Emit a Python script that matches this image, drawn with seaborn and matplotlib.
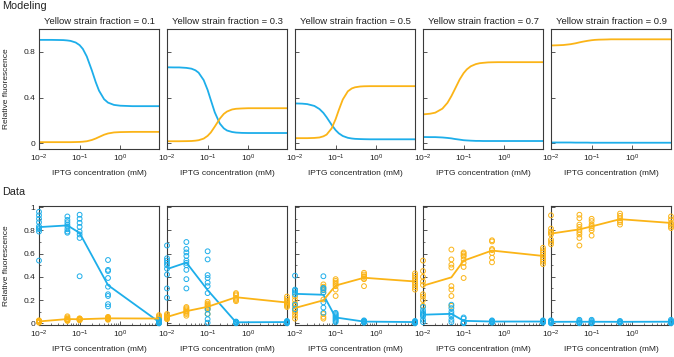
import pandas as pd
import matplotlib
matplotlib.use("Agg")
import matplotlib.pyplot as plt
import seaborn as sns
from matplotlib.ticker import FixedLocator, LogLocator, NullLocator, NullFormatter, MultipleLocator

BLUE = "#1daeea"
ORANGE = "#fbb417"
SPINE = "#3a3a3a"

FRACTIONS = ["0.1", "0.3", "0.5", "0.7", "0.9"]

# ---- modeling curves ----
MODEL_CONC = [0.01, 0.015, 0.02, 0.03, 0.04, 0.05, 0.06, 0.08, 0.1, 0.12, 0.15,
              0.2, 0.25, 0.3, 0.4, 0.5, 0.7, 1.0, 2.0, 5.0, 9.0]

BLUE_MODEL_01 = [0.905, 0.905, 0.905, 0.904, 0.903, 0.90, 0.896, 0.882, 0.859, 0.826, 0.76,
                 0.638, 0.534, 0.461, 0.386, 0.356, 0.336, 0.329, 0.325, 0.325, 0.325]
ORANGE_MODEL_01 = [0.01, 0.01, 0.01, 0.01, 0.01, 0.01, 0.01, 0.011, 0.012, 0.014, 0.018,
                   0.029, 0.042, 0.055, 0.075, 0.086, 0.095, 0.098, 0.10, 0.10, 0.10]
BLUE_MODEL_03 = [0.665, 0.664, 0.664, 0.66, 0.653, 0.639, 0.618, 0.553, 0.467, 0.378, 0.271,
                 0.172, 0.131, 0.112, 0.099, 0.094, 0.091, 0.09, 0.09, 0.09, 0.09]
ORANGE_MODEL_03 = [0.018, 0.018, 0.018, 0.019, 0.02, 0.023, 0.027, 0.041, 0.065, 0.095, 0.146,
                   0.216, 0.257, 0.278, 0.296, 0.302, 0.305, 0.307, 0.307, 0.307, 0.307]
BLUE_MODEL_05 = [0.349, 0.347, 0.343, 0.327, 0.30, 0.266, 0.228, 0.161, 0.115, 0.087, 0.064,
                 0.048, 0.042, 0.039, 0.037, 0.036, 0.035, 0.035, 0.035, 0.035, 0.035]
ORANGE_MODEL_05 = [0.045, 0.045, 0.045, 0.047, 0.051, 0.061, 0.076, 0.131, 0.211, 0.292, 0.383,
                   0.455, 0.48, 0.49, 0.497, 0.499, 0.50, 0.50, 0.50, 0.50, 0.50]
BLUE_MODEL_07 = [0.055, 0.054, 0.054, 0.051, 0.047, 0.043, 0.038, 0.032, 0.027, 0.025, 0.023,
                 0.021, 0.021, 0.02, 0.02, 0.02, 0.02, 0.02, 0.02, 0.02, 0.02]
ORANGE_MODEL_07 = [0.253, 0.259, 0.268, 0.303, 0.354, 0.413, 0.469, 0.559, 0.614, 0.647, 0.674,
                   0.693, 0.701, 0.704, 0.708, 0.709, 0.71, 0.71, 0.71, 0.71, 0.71]
BLUE_MODEL_09 = [0.007, 0.007, 0.007, 0.007, 0.006, 0.006, 0.006, 0.006, 0.005, 0.005, 0.005,
                 0.005, 0.005, 0.005, 0.005, 0.005, 0.005, 0.005, 0.005, 0.005, 0.005]
ORANGE_MODEL_09 = [0.856, 0.858, 0.86, 0.867, 0.875, 0.883, 0.889, 0.897, 0.902, 0.905, 0.907,
                   0.908, 0.909, 0.91, 0.91, 0.91, 0.91, 0.91, 0.91, 0.91, 0.91]

# ---- measured data: one sublist of replicates per concentration ----
CONC_01 = [0.01, 0.05, 0.1, 0.5, 9.0]
BLUE_DATA_01 = [[0.96, 0.93, 0.90, 0.87, 0.835, 0.82, 0.81, 0.79, 0.54],
                [0.92, 0.89, 0.87, 0.85, 0.835, 0.81, 0.79, 0.78],
                [0.935, 0.90, 0.865, 0.83, 0.79, 0.765, 0.735, 0.405],
                [0.545, 0.46, 0.45, 0.39, 0.315, 0.25, 0.235, 0.165, 0.145],
                [0.0, 0.0, 0.005, 0.01, 0.015, 0.02, 0.03]]
ORANGE_DATA_01 = [[0.005, 0.01, 0.012, 0.015, 0.018, 0.02, 0.022, 0.025],
                  [0.02, 0.025, 0.03, 0.03, 0.035, 0.04, 0.05, 0.06],
                  [0.025, 0.03, 0.032, 0.035, 0.038, 0.04, 0.042],
                  [0.03, 0.035, 0.04, 0.042, 0.045, 0.05, 0.055],
                  [0.015, 0.025, 0.03, 0.035, 0.04, 0.05, 0.06, 0.07]]

CONC_03 = [0.01, 0.03, 0.1, 0.5, 9.0]
BLUE_DATA_03 = [[0.67, 0.56, 0.54, 0.52, 0.50, 0.47, 0.42, 0.30, 0.22],
                [0.70, 0.64, 0.61, 0.58, 0.54, 0.52, 0.50, 0.46, 0.38, 0.30],
                [0.62, 0.55, 0.415, 0.39, 0.35, 0.32, 0.26, 0.12, 0.08, 0.035, 0.005],
                [0.0, 0.005, 0.008, 0.01, 0.012, 0.015],
                [0.0, 0.005, 0.01, 0.012, 0.015, 0.02]]
ORANGE_DATA_03 = [[0.035, 0.04, 0.045, 0.05, 0.055, 0.06, 0.07, 0.08],
                  [0.14, 0.13, 0.12, 0.11, 0.10, 0.09, 0.08, 0.065],
                  [0.185, 0.17, 0.16, 0.15, 0.14, 0.13, 0.12, 0.08],
                  [0.26, 0.25, 0.24, 0.22, 0.21, 0.20, 0.19],
                  [0.23, 0.21, 0.19, 0.18, 0.17, 0.16, 0.15, 0.14]]

CONC_05 = [0.01, 0.05, 0.1, 0.5, 9.0]
BLUE_DATA_05 = [[0.41, 0.29, 0.28, 0.265, 0.25, 0.16, 0.12],
                [0.405, 0.305, 0.30, 0.285, 0.265, 0.18, 0.135, 0.09],
                [0.09, 0.08, 0.07, 0.06, 0.05, 0.04, 0.03, 0.02, 0.01],
                [0.005, 0.01, 0.012, 0.015, 0.02, 0.025],
                [0.0, 0.005, 0.01, 0.012, 0.015, 0.02]]
ORANGE_DATA_05 = [[0.23, 0.20, 0.17, 0.15, 0.13, 0.11, 0.09, 0.065, 0.04],
                  [0.335, 0.315, 0.29, 0.265, 0.205, 0.08, 0.055, 0.04],
                  [0.38, 0.365, 0.35, 0.335, 0.32, 0.29, 0.235],
                  [0.435, 0.42, 0.405, 0.40, 0.385, 0.38, 0.32],
                  [0.43, 0.41, 0.39, 0.37, 0.35, 0.33, 0.31, 0.29]]

CONC_07 = [0.01, 0.05, 0.1, 0.5, 9.0]
BLUE_DATA_07 = [[0.14, 0.11, 0.09, 0.08, 0.07, 0.06, 0.03, 0.01],
                [0.16, 0.13, 0.10, 0.08, 0.06, 0.03, 0.01],
                [0.05, 0.04, 0.01, 0.005, 0.0],
                [0.005, 0.01, 0.015, 0.02, 0.025],
                [0.005, 0.01, 0.015, 0.02, 0.025]]
ORANGE_DATA_07 = [[0.54, 0.45, 0.40, 0.36, 0.33, 0.25, 0.23, 0.20, 0.15],
                  [0.635, 0.55, 0.505, 0.48, 0.32, 0.29, 0.235, 0.15],
                  [0.61, 0.60, 0.585, 0.575, 0.55, 0.52, 0.485, 0.39],
                  [0.715, 0.705, 0.64, 0.63, 0.605, 0.565, 0.525],
                  [0.65, 0.63, 0.61, 0.59, 0.57, 0.55, 0.53, 0.51]]

CONC_09 = [0.01, 0.05, 0.1, 0.5, 9.0]
BLUE_DATA_09 = [[0.0, 0.005, 0.01, 0.015, 0.02, 0.025],
                [0.0, 0.005, 0.01, 0.02, 0.03],
                [0.0, 0.005, 0.01, 0.02, 0.03],
                [0.005, 0.01, 0.015, 0.02],
                [0.0, 0.005, 0.01, 0.015, 0.02, 0.03]]
ORANGE_DATA_09 = [[0.93, 0.815, 0.79, 0.78, 0.765, 0.72, 0.70, 0.68],
                  [0.935, 0.905, 0.85, 0.83, 0.805, 0.785, 0.765, 0.735, 0.67],
                  [0.90, 0.88, 0.85, 0.835, 0.82, 0.80, 0.755],
                  [0.945, 0.925, 0.905, 0.885, 0.87, 0.85],
                  [0.92, 0.895, 0.865, 0.85, 0.835, 0.82]]

MODEL_BLUE = [BLUE_MODEL_01, BLUE_MODEL_03, BLUE_MODEL_05, BLUE_MODEL_07, BLUE_MODEL_09]
MODEL_ORANGE = [ORANGE_MODEL_01, ORANGE_MODEL_03, ORANGE_MODEL_05, ORANGE_MODEL_07, ORANGE_MODEL_09]
DATA_CONC = [CONC_01, CONC_03, CONC_05, CONC_07, CONC_09]
DATA_BLUE = [BLUE_DATA_01, BLUE_DATA_03, BLUE_DATA_05, BLUE_DATA_07, BLUE_DATA_09]
DATA_ORANGE = [ORANGE_DATA_01, ORANGE_DATA_03, ORANGE_DATA_05, ORANGE_DATA_07, ORANGE_DATA_09]

PALETTE = {"blue": BLUE, "yellow": ORANGE}


def model_frame(blue, orange):
    n = len(MODEL_CONC)
    return pd.DataFrame({"conc": MODEL_CONC * 2,
                         "value": blue + orange,
                         "strain": ["blue"] * n + ["yellow"] * n})


def data_frame(conc, blue, orange):
    rows = []
    for strain, groups in (("blue", blue), ("yellow", orange)):
        for c, reps in zip(conc, groups):
            for v in reps:
                rows.append((c, v, strain))
    return pd.DataFrame(rows, columns=["conc", "value", "strain"])


def style_axis(ax, first, minor):
    ax.set_xscale("log")
    ax.set_xlim(0.01, 9)
    ax.xaxis.set_major_locator(FixedLocator([0.01, 0.1, 1]))
    if minor:
        ax.xaxis.set_minor_locator(LogLocator(base=10, subs=range(2, 10)))
    else:
        ax.xaxis.set_minor_locator(NullLocator())
    ax.xaxis.set_minor_formatter(NullFormatter())
    ax.tick_params(which="major", direction="in", length=3, width=0.6, labelsize=6,
                   pad=2.5, color=SPINE, labelcolor="#222222")
    ax.tick_params(which="minor", direction="in", length=1.6, width=0.5, color=SPINE)
    ax.tick_params(axis="y", labelleft=first)
    for s in ax.spines.values():
        s.set_color(SPINE)
        s.set_linewidth(0.8)
    ax.set_xlabel("IPTG concentration (mM)", fontsize=6, labelpad=4.5, color="#222222")
    if first:
        ax.set_ylabel("Relative fluorescence", fontsize=6, color="#222222")
        ax.yaxis.set_label_coords(-0.242, 0.5)
    else:
        ax.set_ylabel("")


sns.set_style("ticks")
plt.rcParams["font.family"] = ["Liberation Sans", "DejaVu Sans"]

fig = plt.figure(figsize=(6.74, 3.57), dpi=100)

for i in range(5):
    left = (39 + 128 * i) / 674
    ax_m = fig.add_axes([left, 0.5826, 120 / 674, 0.3361])
    ax_d = fig.add_axes([left, 0.0896, 120 / 674, 0.3333])

    # modeling row
    mdf = model_frame(MODEL_BLUE[i], MODEL_ORANGE[i])
    sns.lineplot(data=mdf, x="conc", y="value", hue="strain", palette=PALETTE,
                 estimator=None, linewidth=1.3, legend=False, ax=ax_m)
    style_axis(ax_m, i == 0, minor=False)
    ax_m.set_ylim(-0.05, 1.0)
    ax_m.set_yticks([0, 0.4, 0.8])
    ax_m.set_yticklabels(["0", "0.4", "0.8"])
    ax_m.set_title(f"Yellow strain fraction = {FRACTIONS[i]}", fontsize=6.8, pad=3.5,
                   color="#222222")

    # data row
    ddf = data_frame(DATA_CONC[i], DATA_BLUE[i], DATA_ORANGE[i])
    for strain in ["yellow", "blue"]:
        sub = ddf[ddf["strain"] == strain]
        sns.scatterplot(data=sub, x="conc", y="value", marker="o", s=12,
                        facecolor="none", edgecolor=PALETTE[strain], linewidth=0.7,
                        clip_on=False, zorder=3, ax=ax_d)
    sns.lineplot(data=ddf, x="conc", y="value", hue="strain", palette=PALETTE,
                 estimator="mean", errorbar=None, linewidth=1.3, legend=False,
                 zorder=4, ax=ax_d)
    style_axis(ax_d, i == 0, minor=True)
    ax_d.set_ylim(-0.015, 1.01)
    ax_d.set_yticks([0, 0.2, 0.4, 0.6, 0.8, 1.0])
    ax_d.set_yticklabels(["0", "0.2", "0.4", "0.6", "0.8", "1"])
    ax_d.yaxis.set_minor_locator(MultipleLocator(0.1))

fig.text(2 / 674, 1 - 1 / 357, "Modeling", fontsize=7.8, ha="left", va="top", color="#222222")
fig.text(2 / 674, 1 - 187 / 357, "Data", fontsize=7.8, ha="left", va="top", color="#222222")

fig.savefig("out.png", dpi=100)
